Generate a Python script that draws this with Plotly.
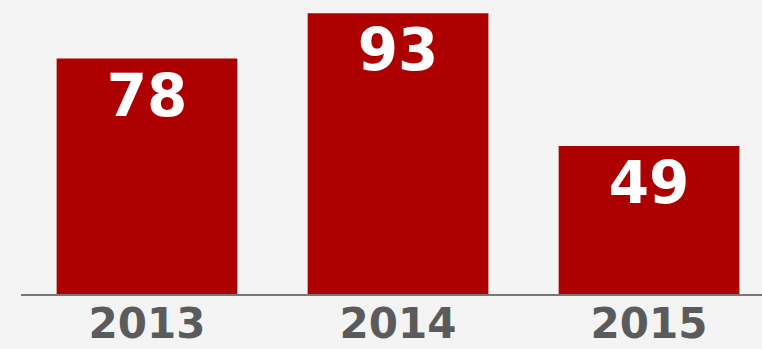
import plotly.graph_objects as go

years = ["2013", "2014", "2015"]
values = [78, 93, 49]

bar_color = "#ad0000"
bg = "#f4f4f4"

fig = go.Figure(go.Bar(
    x=years, y=values, marker=dict(color=bar_color, line=dict(width=0)),
    width=0.72, hoverinfo="skip",
    text=[str(v) for v in values], textposition="inside", insidetextanchor="end",
    textangle=0,
    textfont=dict(family="DejaVu Sans", size=58, color="white", weight="bold"),
))

fig.update_layout(
    width=762, height=349,
    margin=dict(l=21, r=0, t=0, b=55, autoexpand=False),
    paper_bgcolor=bg, plot_bgcolor=bg,
    showlegend=False,
    uniformtext=dict(mode=False),
    xaxis=dict(type="category", range=[-0.502, 2.45], showgrid=False, automargin=False,
               showline=True, linecolor="#777777", linewidth=2,
               ticks="", ticklabelstandoff=-8,
               tickfont=dict(family="DejaVu Sans", size=42, color="#5b5b5b", weight="bold")),
    yaxis=dict(range=[0, 97.4], visible=False, showgrid=False, zeroline=False, automargin=False),
)

fig.write_html("out.html")
